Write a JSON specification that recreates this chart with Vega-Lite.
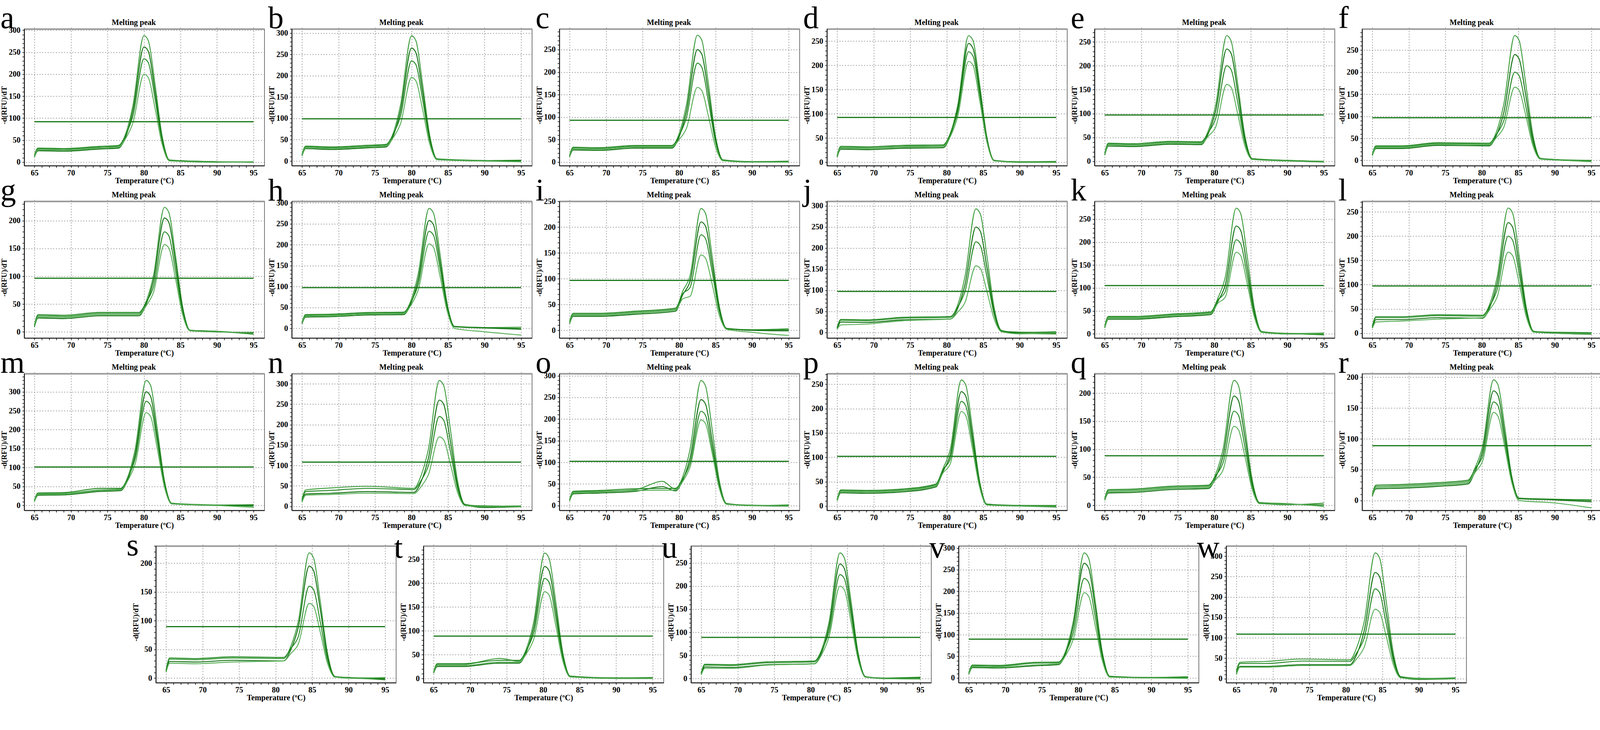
{
"$schema":"https://vega.github.io/schema/vega-lite/v6.json",
"padding":{"left":0,"top":6,"right":0,"bottom":0},
"background":"white",
"datasets":{
"thr":[{"p":"a","x1":65,"x2":95,"h":92},{"p":"b","x1":65,"x2":95,"h":99},{"p":"c","x1":65,"x2":95,"h":93},{"p":"d","x1":65,"x2":95,"h":92.5},{"p":"e","x1":65,"x2":95,"h":97},{"p":"f","x1":65,"x2":95,"h":96.7},{"p":"g","x1":65,"x2":95,"h":96.6},{"p":"h","x1":65,"x2":95,"h":97.5},{"p":"i","x1":65,"x2":95,"h":96.6},{"p":"j","x1":65,"x2":95,"h":97.4},{"p":"k","x1":65,"x2":95,"h":105.4},{"p":"l","x1":65,"x2":95,"h":97.3},{"p":"m","x1":65,"x2":95,"h":101.5},{"p":"n","x1":65,"x2":95,"h":108.3},{"p":"o","x1":65,"x2":95,"h":102.4},{"p":"p","x1":65,"x2":95,"h":102},{"p":"q","x1":65,"x2":95,"h":88.4},{"p":"r","x1":65,"x2":95,"h":89},{"p":"s","x1":65,"x2":95,"h":89.5},{"p":"t","x1":65,"x2":95,"h":88.8},{"p":"u","x1":65,"x2":95,"h":89},{"p":"v","x1":65,"x2":95,"h":89.6},{"p":"w","x1":65,"x2":95,"h":109}],
"a":[
{"c":1,"t":65,"v":15},{"c":1,"t":65.5,"v":30},{"c":1,"t":69,"v":29},{"c":1,"t":74,"v":34},{"c":1,"t":76.5,"v":36},{"c":1,"t":77.5,"v":65},{"c":1,"t":78.5,"v":130},{"c":1,"t":80,"v":288},{"c":1,"t":80.6,"v":276},{"c":1,"t":81.5,"v":179},{"c":1,"t":82.5,"v":58},{"c":1,"t":83.5,"v":5},{"c":1,"t":90,"v":1},{"c":1,"t":95,"v":0},
{"c":2,"t":65,"v":12},{"c":2,"t":65.5,"v":26},{"c":2,"t":69,"v":25},{"c":2,"t":74,"v":30},{"c":2,"t":76.5,"v":32},{"c":2,"t":77.5,"v":58},{"c":2,"t":78.5,"v":118},{"c":2,"t":80,"v":262},{"c":2,"t":80.6,"v":252},{"c":2,"t":81.5,"v":162},{"c":2,"t":82.5,"v":52},{"c":2,"t":83.5,"v":4},{"c":2,"t":90,"v":0},{"c":2,"t":95,"v":1},
{"c":3,"t":65,"v":16},{"c":3,"t":65.5,"v":32},{"c":3,"t":69,"v":31},{"c":3,"t":74,"v":36},{"c":3,"t":76.5,"v":38},{"c":3,"t":77.5,"v":62},{"c":3,"t":78.5,"v":106},{"c":3,"t":80,"v":235},{"c":3,"t":80.6,"v":226},{"c":3,"t":81.5,"v":146},{"c":3,"t":82.5,"v":47},{"c":3,"t":83.5,"v":4},{"c":3,"t":90,"v":1},{"c":3,"t":95,"v":0},
{"c":4,"t":65,"v":13},{"c":4,"t":65.5,"v":28},{"c":4,"t":69,"v":27},{"c":4,"t":74,"v":32},{"c":4,"t":76.5,"v":34},{"c":4,"t":77.5,"v":54},{"c":4,"t":78.5,"v":90},{"c":4,"t":80,"v":200},{"c":4,"t":80.6,"v":192},{"c":4,"t":81.5,"v":124},{"c":4,"t":82.5,"v":40},{"c":4,"t":83.5,"v":3},{"c":4,"t":90,"v":0},{"c":4,"t":95,"v":1}],
"b":[
{"c":1,"t":65,"v":14},{"c":1,"t":65.5,"v":33},{"c":1,"t":69,"v":31},{"c":1,"t":74,"v":35},{"c":1,"t":76.5,"v":37},{"c":1,"t":77.5,"v":66},{"c":1,"t":78.5,"v":132},{"c":1,"t":80,"v":294},{"c":1,"t":80.6,"v":282},{"c":1,"t":81.5,"v":182},{"c":1,"t":82.5,"v":59},{"c":1,"t":83.5,"v":5},{"c":1,"t":90,"v":1},{"c":1,"t":95,"v":-1},
{"c":2,"t":65,"v":12},{"c":2,"t":65.5,"v":29},{"c":2,"t":69,"v":27},{"c":2,"t":74,"v":31},{"c":2,"t":76.5,"v":33},{"c":2,"t":77.5,"v":59},{"c":2,"t":78.5,"v":119},{"c":2,"t":80,"v":265},{"c":2,"t":80.6,"v":254},{"c":2,"t":81.5,"v":164},{"c":2,"t":82.5,"v":53},{"c":2,"t":83.5,"v":4},{"c":2,"t":90,"v":0},{"c":2,"t":95,"v":1},
{"c":3,"t":65,"v":15},{"c":3,"t":65.5,"v":35},{"c":3,"t":69,"v":33},{"c":3,"t":74,"v":37},{"c":3,"t":76.5,"v":39},{"c":3,"t":77.5,"v":63},{"c":3,"t":78.5,"v":106},{"c":3,"t":80,"v":235},{"c":3,"t":80.6,"v":226},{"c":3,"t":81.5,"v":146},{"c":3,"t":82.5,"v":47},{"c":3,"t":83.5,"v":4},{"c":3,"t":90,"v":1},{"c":3,"t":95,"v":2},
{"c":4,"t":65,"v":13},{"c":4,"t":65.5,"v":31},{"c":4,"t":69,"v":29},{"c":4,"t":74,"v":33},{"c":4,"t":76.5,"v":35},{"c":4,"t":77.5,"v":55},{"c":4,"t":78.5,"v":88},{"c":4,"t":80,"v":196},{"c":4,"t":80.6,"v":188},{"c":4,"t":81.5,"v":122},{"c":4,"t":82.5,"v":39},{"c":4,"t":83.5,"v":3},{"c":4,"t":90,"v":0},{"c":4,"t":95,"v":-2}],
"c":[
{"c":1,"t":65,"v":14},{"c":1,"t":65.5,"v":31},{"c":1,"t":69,"v":30},{"c":1,"t":74,"v":35},{"c":1,"t":79,"v":35},{"c":1,"t":80,"v":63},{"c":1,"t":81,"v":127},{"c":1,"t":82.5,"v":282},{"c":1,"t":83.1,"v":271},{"c":1,"t":84,"v":175},{"c":1,"t":85,"v":56},{"c":1,"t":86,"v":5},{"c":1,"t":90,"v":1},{"c":1,"t":95,"v":1},
{"c":2,"t":65,"v":12},{"c":2,"t":65.5,"v":27},{"c":2,"t":69,"v":26},{"c":2,"t":74,"v":31},{"c":2,"t":79,"v":31},{"c":2,"t":80,"v":56},{"c":2,"t":81,"v":113},{"c":2,"t":82.5,"v":250},{"c":2,"t":83.1,"v":240},{"c":2,"t":84,"v":155},{"c":2,"t":85,"v":50},{"c":2,"t":86,"v":4},{"c":2,"t":90,"v":0},{"c":2,"t":95,"v":0},
{"c":3,"t":65,"v":15},{"c":3,"t":65.5,"v":33},{"c":3,"t":69,"v":32},{"c":3,"t":74,"v":37},{"c":3,"t":79,"v":37},{"c":3,"t":80,"v":59},{"c":3,"t":81,"v":99},{"c":3,"t":82.5,"v":220},{"c":3,"t":83.1,"v":211},{"c":3,"t":84,"v":136},{"c":3,"t":85,"v":44},{"c":3,"t":86,"v":4},{"c":3,"t":90,"v":1},{"c":3,"t":95,"v":2},
{"c":4,"t":65,"v":13},{"c":4,"t":65.5,"v":29},{"c":4,"t":69,"v":28},{"c":4,"t":74,"v":33},{"c":4,"t":79,"v":33},{"c":4,"t":80,"v":50},{"c":4,"t":81,"v":75},{"c":4,"t":82.5,"v":166},{"c":4,"t":83.1,"v":159},{"c":4,"t":84,"v":103},{"c":4,"t":85,"v":33},{"c":4,"t":86,"v":3},{"c":4,"t":90,"v":0},{"c":4,"t":95,"v":0}],
"d":[
{"c":1,"t":65,"v":13},{"c":1,"t":65.5,"v":31},{"c":1,"t":69,"v":30},{"c":1,"t":74,"v":33},{"c":1,"t":79.5,"v":34},{"c":1,"t":80.5,"v":60},{"c":1,"t":81.5,"v":117},{"c":1,"t":83,"v":261},{"c":1,"t":83.6,"v":251},{"c":1,"t":84.5,"v":162},{"c":1,"t":85.5,"v":52},{"c":1,"t":86.5,"v":4},{"c":1,"t":90,"v":1},{"c":1,"t":95,"v":2},
{"c":2,"t":65,"v":11},{"c":2,"t":65.5,"v":27},{"c":2,"t":69,"v":26},{"c":2,"t":74,"v":29},{"c":2,"t":79.5,"v":30},{"c":2,"t":80.5,"v":55},{"c":2,"t":81.5,"v":110},{"c":2,"t":83,"v":245},{"c":2,"t":83.6,"v":235},{"c":2,"t":84.5,"v":152},{"c":2,"t":85.5,"v":49},{"c":2,"t":86.5,"v":4},{"c":2,"t":90,"v":0},{"c":2,"t":95,"v":0},
{"c":3,"t":65,"v":14},{"c":3,"t":65.5,"v":33},{"c":3,"t":69,"v":32},{"c":3,"t":74,"v":35},{"c":3,"t":79.5,"v":36},{"c":3,"t":80.5,"v":59},{"c":3,"t":81.5,"v":103},{"c":3,"t":83,"v":228},{"c":3,"t":83.6,"v":219},{"c":3,"t":84.5,"v":141},{"c":3,"t":85.5,"v":46},{"c":3,"t":86.5,"v":3},{"c":3,"t":90,"v":1},{"c":3,"t":95,"v":1},
{"c":4,"t":65,"v":12},{"c":4,"t":65.5,"v":29},{"c":4,"t":69,"v":28},{"c":4,"t":74,"v":31},{"c":4,"t":79.5,"v":32},{"c":4,"t":80.5,"v":53},{"c":4,"t":81.5,"v":94},{"c":4,"t":83,"v":208},{"c":4,"t":83.6,"v":200},{"c":4,"t":84.5,"v":129},{"c":4,"t":85.5,"v":42},{"c":4,"t":86.5,"v":3},{"c":4,"t":90,"v":0},{"c":4,"t":95,"v":0}],
"e":[
{"c":1,"t":65,"v":16},{"c":1,"t":65.5,"v":36},{"c":1,"t":69,"v":35},{"c":1,"t":74,"v":40},{"c":1,"t":78.2,"v":39},{"c":1,"t":79.2,"v":65},{"c":1,"t":80.2,"v":118},{"c":1,"t":81.7,"v":263},{"c":1,"t":82.3,"v":252},{"c":1,"t":83.2,"v":163},{"c":1,"t":84.2,"v":53},{"c":1,"t":85.2,"v":6},{"c":1,"t":90,"v":2},{"c":1,"t":95,"v":0},
{"c":2,"t":65,"v":13},{"c":2,"t":65.5,"v":32},{"c":2,"t":69,"v":31},{"c":2,"t":74,"v":36},{"c":2,"t":78.2,"v":35},{"c":2,"t":79.2,"v":59},{"c":2,"t":80.2,"v":106},{"c":2,"t":81.7,"v":235},{"c":2,"t":82.3,"v":226},{"c":2,"t":83.2,"v":146},{"c":2,"t":84.2,"v":47},{"c":2,"t":85.2,"v":5},{"c":2,"t":90,"v":1},{"c":2,"t":95,"v":-1},
{"c":3,"t":65,"v":17},{"c":3,"t":65.5,"v":38},{"c":3,"t":69,"v":37},{"c":3,"t":74,"v":42},{"c":3,"t":78.2,"v":41},{"c":3,"t":79.2,"v":61},{"c":3,"t":80.2,"v":90},{"c":3,"t":81.7,"v":200},{"c":3,"t":82.3,"v":192},{"c":3,"t":83.2,"v":124},{"c":3,"t":84.2,"v":40},{"c":3,"t":85.2,"v":5},{"c":3,"t":90,"v":2},{"c":3,"t":95,"v":0},
{"c":4,"t":65,"v":14},{"c":4,"t":65.5,"v":34},{"c":4,"t":69,"v":33},{"c":4,"t":74,"v":38},{"c":4,"t":78.2,"v":37},{"c":4,"t":79.2,"v":53},{"c":4,"t":80.2,"v":72},{"c":4,"t":81.7,"v":161},{"c":4,"t":82.3,"v":155},{"c":4,"t":83.2,"v":100},{"c":4,"t":84.2,"v":32},{"c":4,"t":85.2,"v":4},{"c":4,"t":90,"v":1},{"c":4,"t":95,"v":0}],
"f":[
{"c":1,"t":65,"v":13},{"c":1,"t":65.5,"v":31},{"c":1,"t":69,"v":31},{"c":1,"t":74,"v":38},{"c":1,"t":81,"v":37},{"c":1,"t":82,"v":65},{"c":1,"t":83,"v":127},{"c":1,"t":84.5,"v":283},{"c":1,"t":85.1,"v":272},{"c":1,"t":86,"v":175},{"c":1,"t":87,"v":57},{"c":1,"t":88,"v":5},{"c":1,"t":90,"v":2},{"c":1,"t":95,"v":-3},
{"c":2,"t":65,"v":11},{"c":2,"t":65.5,"v":27},{"c":2,"t":69,"v":27},{"c":2,"t":74,"v":34},{"c":2,"t":81,"v":33},{"c":2,"t":82,"v":57},{"c":2,"t":83,"v":108},{"c":2,"t":84.5,"v":240},{"c":2,"t":85.1,"v":230},{"c":2,"t":86,"v":149},{"c":2,"t":87,"v":48},{"c":2,"t":88,"v":4},{"c":2,"t":90,"v":1},{"c":2,"t":95,"v":-1},
{"c":3,"t":65,"v":14},{"c":3,"t":65.5,"v":33},{"c":3,"t":69,"v":33},{"c":3,"t":74,"v":40},{"c":3,"t":81,"v":39},{"c":3,"t":82,"v":59},{"c":3,"t":83,"v":90},{"c":3,"t":84.5,"v":200},{"c":3,"t":85.1,"v":192},{"c":3,"t":86,"v":124},{"c":3,"t":87,"v":40},{"c":3,"t":88,"v":4},{"c":3,"t":90,"v":2},{"c":3,"t":95,"v":0},
{"c":4,"t":65,"v":12},{"c":4,"t":65.5,"v":29},{"c":4,"t":69,"v":29},{"c":4,"t":74,"v":36},{"c":4,"t":81,"v":35},{"c":4,"t":82,"v":52},{"c":4,"t":83,"v":75},{"c":4,"t":84.5,"v":166},{"c":4,"t":85.1,"v":159},{"c":4,"t":86,"v":103},{"c":4,"t":87,"v":33},{"c":4,"t":88,"v":3},{"c":4,"t":90,"v":1},{"c":4,"t":95,"v":-2}],
"g":[
{"c":1,"t":65,"v":11},{"c":1,"t":65.5,"v":29},{"c":1,"t":69,"v":28},{"c":1,"t":74,"v":33},{"c":1,"t":79.3,"v":33},{"c":1,"t":80.3,"v":55},{"c":1,"t":81.3,"v":101},{"c":1,"t":82.8,"v":224},{"c":1,"t":83.4,"v":215},{"c":1,"t":84.3,"v":139},{"c":1,"t":85.3,"v":45},{"c":1,"t":86.3,"v":3},{"c":1,"t":90,"v":1},{"c":1,"t":95,"v":-3},
{"c":2,"t":65,"v":9},{"c":2,"t":65.5,"v":25},{"c":2,"t":69,"v":24},{"c":2,"t":74,"v":29},{"c":2,"t":79.3,"v":29},{"c":2,"t":80.3,"v":50},{"c":2,"t":81.3,"v":92},{"c":2,"t":82.8,"v":205},{"c":2,"t":83.4,"v":197},{"c":2,"t":84.3,"v":127},{"c":2,"t":85.3,"v":41},{"c":2,"t":86.3,"v":3},{"c":2,"t":90,"v":0},{"c":2,"t":95,"v":-1},
{"c":3,"t":65,"v":12},{"c":3,"t":65.5,"v":31},{"c":3,"t":69,"v":30},{"c":3,"t":74,"v":35},{"c":3,"t":79.3,"v":35},{"c":3,"t":80.3,"v":53},{"c":3,"t":81.3,"v":81},{"c":3,"t":82.8,"v":180},{"c":3,"t":83.4,"v":173},{"c":3,"t":84.3,"v":112},{"c":3,"t":85.3,"v":36},{"c":3,"t":86.3,"v":3},{"c":3,"t":90,"v":1},{"c":3,"t":95,"v":-4},
{"c":4,"t":65,"v":10},{"c":4,"t":65.5,"v":27},{"c":4,"t":69,"v":26},{"c":4,"t":74,"v":31},{"c":4,"t":79.3,"v":31},{"c":4,"t":80.3,"v":47},{"c":4,"t":81.3,"v":71},{"c":4,"t":82.8,"v":157},{"c":4,"t":83.4,"v":151},{"c":4,"t":84.3,"v":97},{"c":4,"t":85.3,"v":31},{"c":4,"t":86.3,"v":2},{"c":4,"t":90,"v":0},{"c":4,"t":95,"v":-2}],
"h":[
{"c":1,"t":65,"v":13},{"c":1,"t":65.5,"v":31},{"c":1,"t":69,"v":32},{"c":1,"t":74,"v":36},{"c":1,"t":78.9,"v":37},{"c":1,"t":79.9,"v":66},{"c":1,"t":80.9,"v":129},{"c":1,"t":82.4,"v":287},{"c":1,"t":83,"v":276},{"c":1,"t":83.9,"v":178},{"c":1,"t":84.9,"v":57},{"c":1,"t":85.9,"v":5},{"c":1,"t":90,"v":2},{"c":1,"t":95,"v":3},
{"c":2,"t":65,"v":11},{"c":2,"t":65.5,"v":27},{"c":2,"t":69,"v":28},{"c":2,"t":74,"v":32},{"c":2,"t":78.9,"v":33},{"c":2,"t":79.9,"v":59},{"c":2,"t":80.9,"v":116},{"c":2,"t":82.4,"v":258},{"c":2,"t":83,"v":248},{"c":2,"t":83.9,"v":160},{"c":2,"t":84.9,"v":52},{"c":2,"t":85.9,"v":4},{"c":2,"t":90,"v":1},{"c":2,"t":95,"v":-2},
{"c":3,"t":65,"v":14},{"c":3,"t":65.5,"v":33},{"c":3,"t":69,"v":34},{"c":3,"t":74,"v":38},{"c":3,"t":78.9,"v":39},{"c":3,"t":79.9,"v":62},{"c":3,"t":80.9,"v":104},{"c":3,"t":82.4,"v":232},{"c":3,"t":83,"v":223},{"c":3,"t":83.9,"v":144},{"c":3,"t":84.9,"v":46},{"c":3,"t":85.9,"v":4},{"c":3,"t":90,"v":2},{"c":3,"t":95,"v":0},
{"c":4,"t":65,"v":12},{"c":4,"t":65.5,"v":29},{"c":4,"t":69,"v":30},{"c":4,"t":74,"v":34},{"c":4,"t":78.9,"v":35},{"c":4,"t":79.9,"v":55},{"c":4,"t":80.9,"v":91},{"c":4,"t":82.4,"v":202},{"c":4,"t":83,"v":194},{"c":4,"t":83.9,"v":125},{"c":4,"t":84.9,"v":40},{"c":4,"t":85.9,"v":0},{"c":4,"t":90,"v":-8},{"c":4,"t":95,"v":-16}],
"i":[
{"c":1,"t":65,"v":16},{"c":1,"t":65.5,"v":31},{"c":1,"t":69,"v":31},{"c":1,"t":74,"v":35},{"c":1,"t":79.5,"v":41},{"c":1,"t":80.5,"v":76},{"c":1,"t":81.5,"v":106},{"c":1,"t":83,"v":236},{"c":1,"t":83.6,"v":227},{"c":1,"t":84.5,"v":146},{"c":1,"t":85.5,"v":47},{"c":1,"t":86.5,"v":4},{"c":1,"t":90,"v":1},{"c":1,"t":95,"v":3},
{"c":2,"t":65,"v":13},{"c":2,"t":65.5,"v":27},{"c":2,"t":69,"v":27},{"c":2,"t":74,"v":31},{"c":2,"t":79.5,"v":37},{"c":2,"t":80.5,"v":69},{"c":2,"t":81.5,"v":95},{"c":2,"t":83,"v":210},{"c":2,"t":83.6,"v":202},{"c":2,"t":84.5,"v":130},{"c":2,"t":85.5,"v":42},{"c":2,"t":86.5,"v":3},{"c":2,"t":90,"v":0},{"c":2,"t":95,"v":-1},
{"c":3,"t":65,"v":17},{"c":3,"t":65.5,"v":33},{"c":3,"t":69,"v":33},{"c":3,"t":74,"v":37},{"c":3,"t":79.5,"v":43},{"c":3,"t":80.5,"v":71},{"c":3,"t":81.5,"v":83},{"c":3,"t":83,"v":185},{"c":3,"t":83.6,"v":178},{"c":3,"t":84.5,"v":115},{"c":3,"t":85.5,"v":37},{"c":3,"t":86.5,"v":3},{"c":3,"t":90,"v":1},{"c":3,"t":95,"v":1},
{"c":4,"t":65,"v":14},{"c":4,"t":65.5,"v":29},{"c":4,"t":69,"v":29},{"c":4,"t":74,"v":33},{"c":4,"t":79.5,"v":39},{"c":4,"t":80.5,"v":61},{"c":4,"t":81.5,"v":66},{"c":4,"t":83,"v":146},{"c":4,"t":83.6,"v":140},{"c":4,"t":84.5,"v":91},{"c":4,"t":85.5,"v":29},{"c":4,"t":86.5,"v":2},{"c":4,"t":90,"v":-4},{"c":4,"t":95,"v":-10}],
"j":[
{"c":1,"t":65,"v":11},{"c":1,"t":65.5,"v":29},{"c":1,"t":69,"v":28},{"c":1,"t":74,"v":34},{"c":1,"t":80.5,"v":36},{"c":1,"t":81.5,"v":65},{"c":1,"t":82.5,"v":132},{"c":1,"t":84,"v":293},{"c":1,"t":84.6,"v":281},{"c":1,"t":85.5,"v":182},{"c":1,"t":86.5,"v":59},{"c":1,"t":87.5,"v":5},{"c":1,"t":90,"v":0},{"c":1,"t":95,"v":2},
{"c":2,"t":65,"v":9},{"c":2,"t":65.5,"v":25},{"c":2,"t":69,"v":24},{"c":2,"t":74,"v":30},{"c":2,"t":80.5,"v":32},{"c":2,"t":81.5,"v":57},{"c":2,"t":82.5,"v":113},{"c":2,"t":84,"v":250},{"c":2,"t":84.6,"v":240},{"c":2,"t":85.5,"v":155},{"c":2,"t":86.5,"v":50},{"c":2,"t":87.5,"v":4},{"c":2,"t":90,"v":-2},{"c":2,"t":95,"v":-3},
{"c":3,"t":65,"v":12},{"c":3,"t":65.5,"v":31},{"c":3,"t":69,"v":30},{"c":3,"t":74,"v":36},{"c":3,"t":80.5,"v":38},{"c":3,"t":81.5,"v":60},{"c":3,"t":82.5,"v":97},{"c":3,"t":84,"v":215},{"c":3,"t":84.6,"v":206},{"c":3,"t":85.5,"v":133},{"c":3,"t":86.5,"v":43},{"c":3,"t":87.5,"v":3},{"c":3,"t":90,"v":1},{"c":3,"t":95,"v":0},
{"c":4,"t":65,"v":8},{"c":4,"t":65.5,"v":18},{"c":4,"t":69,"v":20},{"c":4,"t":74,"v":28},{"c":4,"t":80.5,"v":32},{"c":4,"t":81.5,"v":48},{"c":4,"t":82.5,"v":71},{"c":4,"t":84,"v":158},{"c":4,"t":84.6,"v":152},{"c":4,"t":85.5,"v":98},{"c":4,"t":86.5,"v":32},{"c":4,"t":87.5,"v":2},{"c":4,"t":90,"v":-3},{"c":4,"t":95,"v":-1}],
"k":[
{"c":1,"t":65,"v":16},{"c":1,"t":65.5,"v":36},{"c":1,"t":69,"v":36},{"c":1,"t":74,"v":41},{"c":1,"t":79.5,"v":46},{"c":1,"t":80.5,"v":78},{"c":1,"t":81.5,"v":123},{"c":1,"t":83,"v":274},{"c":1,"t":83.6,"v":263},{"c":1,"t":84.5,"v":170},{"c":1,"t":85.5,"v":55},{"c":1,"t":86.5,"v":5},{"c":1,"t":90,"v":1},{"c":1,"t":95,"v":2},
{"c":2,"t":65,"v":13},{"c":2,"t":65.5,"v":32},{"c":2,"t":69,"v":32},{"c":2,"t":74,"v":37},{"c":2,"t":79.5,"v":42},{"c":2,"t":80.5,"v":71},{"c":2,"t":81.5,"v":106},{"c":2,"t":83,"v":235},{"c":2,"t":83.6,"v":226},{"c":2,"t":84.5,"v":146},{"c":2,"t":85.5,"v":47},{"c":2,"t":86.5,"v":4},{"c":2,"t":90,"v":0},{"c":2,"t":95,"v":0},
{"c":3,"t":65,"v":17},{"c":3,"t":65.5,"v":38},{"c":3,"t":69,"v":38},{"c":3,"t":74,"v":43},{"c":3,"t":79.5,"v":48},{"c":3,"t":80.5,"v":74},{"c":3,"t":81.5,"v":92},{"c":3,"t":83,"v":205},{"c":3,"t":83.6,"v":197},{"c":3,"t":84.5,"v":127},{"c":3,"t":85.5,"v":41},{"c":3,"t":86.5,"v":4},{"c":3,"t":90,"v":1},{"c":3,"t":95,"v":-2},
{"c":4,"t":65,"v":14},{"c":4,"t":65.5,"v":34},{"c":4,"t":69,"v":34},{"c":4,"t":74,"v":39},{"c":4,"t":79.5,"v":44},{"c":4,"t":80.5,"v":67},{"c":4,"t":81.5,"v":80},{"c":4,"t":83,"v":178},{"c":4,"t":83.6,"v":171},{"c":4,"t":84.5,"v":110},{"c":4,"t":85.5,"v":36},{"c":4,"t":86.5,"v":3},{"c":4,"t":90,"v":0},{"c":4,"t":95,"v":1}],
"l":[
{"c":1,"t":65,"v":13},{"c":1,"t":65.5,"v":32},{"c":1,"t":69,"v":32},{"c":1,"t":74,"v":36},{"c":1,"t":80.1,"v":35},{"c":1,"t":81.1,"v":61},{"c":1,"t":82.1,"v":116},{"c":1,"t":83.6,"v":258},{"c":1,"t":84.2,"v":248},{"c":1,"t":85.1,"v":160},{"c":1,"t":86.1,"v":52},{"c":1,"t":87.1,"v":4},{"c":1,"t":90,"v":1},{"c":1,"t":95,"v":0},
{"c":2,"t":65,"v":11},{"c":2,"t":65.5,"v":28},{"c":2,"t":69,"v":28},{"c":2,"t":74,"v":32},{"c":2,"t":80.1,"v":31},{"c":2,"t":81.1,"v":54},{"c":2,"t":82.1,"v":103},{"c":2,"t":83.6,"v":228},{"c":2,"t":84.2,"v":219},{"c":2,"t":85.1,"v":141},{"c":2,"t":86.1,"v":46},{"c":2,"t":87.1,"v":3},{"c":2,"t":90,"v":0},{"c":2,"t":95,"v":-2},
{"c":3,"t":65,"v":14},{"c":3,"t":65.5,"v":34},{"c":3,"t":69,"v":34},{"c":3,"t":74,"v":38},{"c":3,"t":80.1,"v":37},{"c":3,"t":81.1,"v":57},{"c":3,"t":82.1,"v":90},{"c":3,"t":83.6,"v":200},{"c":3,"t":84.2,"v":192},{"c":3,"t":85.1,"v":124},{"c":3,"t":86.1,"v":40},{"c":3,"t":87.1,"v":3},{"c":3,"t":90,"v":2},{"c":3,"t":95,"v":1},
{"c":4,"t":65,"v":10},{"c":4,"t":65.5,"v":23},{"c":4,"t":69,"v":25},{"c":4,"t":74,"v":29},{"c":4,"t":80.1,"v":32},{"c":4,"t":81.1,"v":49},{"c":4,"t":82.1,"v":75},{"c":4,"t":83.6,"v":167},{"c":4,"t":84.2,"v":160},{"c":4,"t":85.1,"v":104},{"c":4,"t":86.1,"v":33},{"c":4,"t":87.1,"v":2},{"c":4,"t":90,"v":0},{"c":4,"t":95,"v":-1}],
"m":[
{"c":1,"t":65,"v":13},{"c":1,"t":65.5,"v":31},{"c":1,"t":69,"v":32},{"c":1,"t":74,"v":41},{"c":1,"t":76.8,"v":43},{"c":1,"t":77.8,"v":76},{"c":1,"t":78.8,"v":149},{"c":1,"t":80.3,"v":330},{"c":1,"t":80.9,"v":317},{"c":1,"t":81.8,"v":205},{"c":1,"t":82.8,"v":66},{"c":1,"t":83.8,"v":6},{"c":1,"t":90,"v":1},{"c":1,"t":95,"v":-2},
{"c":2,"t":65,"v":11},{"c":2,"t":65.5,"v":27},{"c":2,"t":69,"v":28},{"c":2,"t":74,"v":37},{"c":2,"t":76.8,"v":39},{"c":2,"t":77.8,"v":69},{"c":2,"t":78.8,"v":135},{"c":2,"t":80.3,"v":300},{"c":2,"t":80.9,"v":288},{"c":2,"t":81.8,"v":186},{"c":2,"t":82.8,"v":60},{"c":2,"t":83.8,"v":5},{"c":2,"t":90,"v":0},{"c":2,"t":95,"v":0},
{"c":3,"t":65,"v":14},{"c":3,"t":65.5,"v":33},{"c":3,"t":69,"v":34},{"c":3,"t":74,"v":45},{"c":3,"t":76.8,"v":45},{"c":3,"t":77.8,"v":73},{"c":3,"t":78.8,"v":124},{"c":3,"t":80.3,"v":275},{"c":3,"t":80.9,"v":264},{"c":3,"t":81.8,"v":171},{"c":3,"t":82.8,"v":55},{"c":3,"t":83.8,"v":5},{"c":3,"t":90,"v":1},{"c":3,"t":95,"v":2},
{"c":4,"t":65,"v":12},{"c":4,"t":65.5,"v":29},{"c":4,"t":69,"v":30},{"c":4,"t":74,"v":39},{"c":4,"t":76.8,"v":41},{"c":4,"t":77.8,"v":66},{"c":4,"t":78.8,"v":110},{"c":4,"t":80.3,"v":245},{"c":4,"t":80.9,"v":235},{"c":4,"t":81.8,"v":152},{"c":4,"t":82.8,"v":49},{"c":4,"t":83.8,"v":4},{"c":4,"t":90,"v":0},{"c":4,"t":95,"v":-5}],
"n":[
{"c":1,"t":65,"v":18},{"c":1,"t":65.5,"v":40},{"c":1,"t":69,"v":45},{"c":1,"t":74,"v":49},{"c":1,"t":80.3,"v":44},{"c":1,"t":81.3,"v":75},{"c":1,"t":82.3,"v":139},{"c":1,"t":83.8,"v":308},{"c":1,"t":84.4,"v":296},{"c":1,"t":85.3,"v":191},{"c":1,"t":86.3,"v":62},{"c":1,"t":87.3,"v":5},{"c":1,"t":90,"v":0},{"c":1,"t":95,"v":1},
{"c":2,"t":65,"v":12},{"c":2,"t":65.5,"v":30},{"c":2,"t":69,"v":32},{"c":2,"t":74,"v":36},{"c":2,"t":80.3,"v":34},{"c":2,"t":81.3,"v":60},{"c":2,"t":82.3,"v":117},{"c":2,"t":83.8,"v":260},{"c":2,"t":84.4,"v":250},{"c":2,"t":85.3,"v":161},{"c":2,"t":86.3,"v":52},{"c":2,"t":87.3,"v":4},{"c":2,"t":90,"v":-3},{"c":2,"t":95,"v":-1},
{"c":3,"t":65,"v":15},{"c":3,"t":65.5,"v":36},{"c":3,"t":69,"v":39},{"c":3,"t":74,"v":44},{"c":3,"t":80.3,"v":41},{"c":3,"t":81.3,"v":63},{"c":3,"t":82.3,"v":99},{"c":3,"t":83.8,"v":220},{"c":3,"t":84.4,"v":211},{"c":3,"t":85.3,"v":136},{"c":3,"t":86.3,"v":44},{"c":3,"t":87.3,"v":3},{"c":3,"t":90,"v":1},{"c":3,"t":95,"v":0},
{"c":4,"t":65,"v":10},{"c":4,"t":65.5,"v":27},{"c":4,"t":69,"v":29},{"c":4,"t":74,"v":32},{"c":4,"t":80.3,"v":31},{"c":4,"t":81.3,"v":48},{"c":4,"t":82.3,"v":77},{"c":4,"t":83.8,"v":170},{"c":4,"t":84.4,"v":163},{"c":4,"t":85.3,"v":105},{"c":4,"t":86.3,"v":34},{"c":4,"t":87.3,"v":2},{"c":4,"t":90,"v":-1},{"c":4,"t":95,"v":0}],
"o":[
{"c":1,"t":65,"v":13},{"c":1,"t":65.5,"v":31},{"c":1,"t":69,"v":33},{"c":1,"t":74,"v":37},{"c":1,"t":77.7,"v":56},{"c":1,"t":79.5,"v":38},{"c":1,"t":80.5,"v":67},{"c":1,"t":81.5,"v":130},{"c":1,"t":83,"v":289},{"c":1,"t":83.6,"v":277},{"c":1,"t":84.5,"v":179},{"c":1,"t":85.5,"v":58},{"c":1,"t":86.5,"v":5},{"c":1,"t":90,"v":0},{"c":1,"t":95,"v":2},
{"c":2,"t":65,"v":11},{"c":2,"t":65.5,"v":27},{"c":2,"t":69,"v":29},{"c":2,"t":74,"v":33},{"c":2,"t":77.7,"v":44},{"c":2,"t":79.5,"v":34},{"c":2,"t":80.5,"v":59},{"c":2,"t":81.5,"v":110},{"c":2,"t":83,"v":245},{"c":2,"t":83.6,"v":235},{"c":2,"t":84.5,"v":152},{"c":2,"t":85.5,"v":49},{"c":2,"t":86.5,"v":4},{"c":2,"t":90,"v":0},{"c":2,"t":95,"v":-1},
{"c":3,"t":65,"v":14},{"c":3,"t":65.5,"v":33},{"c":3,"t":69,"v":35},{"c":3,"t":74,"v":39},{"c":3,"t":79.5,"v":40},{"c":3,"t":80.5,"v":62},{"c":3,"t":81.5,"v":98},{"c":3,"t":83,"v":218},{"c":3,"t":83.6,"v":209},{"c":3,"t":84.5,"v":135},{"c":3,"t":85.5,"v":44},{"c":3,"t":86.5,"v":4},{"c":3,"t":90,"v":1},{"c":3,"t":95,"v":0},
{"c":4,"t":65,"v":12},{"c":4,"t":65.5,"v":29},{"c":4,"t":69,"v":31},{"c":4,"t":74,"v":35},{"c":4,"t":79.5,"v":36},{"c":4,"t":80.5,"v":56},{"c":4,"t":81.5,"v":89},{"c":4,"t":83,"v":198},{"c":4,"t":83.6,"v":190},{"c":4,"t":84.5,"v":123},{"c":4,"t":85.5,"v":40},{"c":4,"t":86.5,"v":3},{"c":4,"t":90,"v":0},{"c":4,"t":95,"v":1}],
"p":[
{"c":1,"t":65,"v":13},{"c":1,"t":65.5,"v":31},{"c":1,"t":69,"v":30},{"c":1,"t":74,"v":33},{"c":1,"t":78.5,"v":43},{"c":1,"t":79.5,"v":77},{"c":1,"t":80.5,"v":117},{"c":1,"t":82,"v":259},{"c":1,"t":82.6,"v":249},{"c":1,"t":83.5,"v":161},{"c":1,"t":84.5,"v":52},{"c":1,"t":85.5,"v":4},{"c":1,"t":90,"v":1},{"c":1,"t":95,"v":0},
{"c":2,"t":65,"v":11},{"c":2,"t":65.5,"v":27},{"c":2,"t":69,"v":26},{"c":2,"t":74,"v":29},{"c":2,"t":78.5,"v":39},{"c":2,"t":79.5,"v":71},{"c":2,"t":80.5,"v":106},{"c":2,"t":82,"v":235},{"c":2,"t":82.6,"v":226},{"c":2,"t":83.5,"v":146},{"c":2,"t":84.5,"v":47},{"c":2,"t":85.5,"v":3},{"c":2,"t":90,"v":0},{"c":2,"t":95,"v":-2},
{"c":3,"t":65,"v":14},{"c":3,"t":65.5,"v":33},{"c":3,"t":69,"v":32},{"c":3,"t":74,"v":35},{"c":3,"t":78.5,"v":45},{"c":3,"t":79.5,"v":75},{"c":3,"t":80.5,"v":97},{"c":3,"t":82,"v":215},{"c":3,"t":82.6,"v":206},{"c":3,"t":83.5,"v":133},{"c":3,"t":84.5,"v":43},{"c":3,"t":85.5,"v":3},{"c":3,"t":90,"v":1},{"c":3,"t":95,"v":1},
{"c":4,"t":65,"v":12},{"c":4,"t":65.5,"v":29},{"c":4,"t":69,"v":28},{"c":4,"t":74,"v":31},{"c":4,"t":78.5,"v":41},{"c":4,"t":79.5,"v":68},{"c":4,"t":80.5,"v":87},{"c":4,"t":82,"v":194},{"c":4,"t":82.6,"v":186},{"c":4,"t":83.5,"v":120},{"c":4,"t":84.5,"v":39},{"c":4,"t":85.5,"v":2},{"c":4,"t":90,"v":0},{"c":4,"t":95,"v":-1}],
"q":[
{"c":1,"t":65,"v":11},{"c":1,"t":65.5,"v":26},{"c":1,"t":69,"v":27},{"c":1,"t":74,"v":32},{"c":1,"t":79.2,"v":34},{"c":1,"t":80.2,"v":56},{"c":1,"t":81.2,"v":100},{"c":1,"t":82.7,"v":223},{"c":1,"t":83.3,"v":214},{"c":1,"t":84.2,"v":138},{"c":1,"t":85.2,"v":45},{"c":1,"t":86.2,"v":5},{"c":1,"t":90,"v":3},{"c":1,"t":95,"v":-2},
{"c":2,"t":65,"v":9},{"c":2,"t":65.5,"v":22},{"c":2,"t":69,"v":23},{"c":2,"t":74,"v":28},{"c":2,"t":79.2,"v":30},{"c":2,"t":80.2,"v":50},{"c":2,"t":81.2,"v":88},{"c":2,"t":82.7,"v":195},{"c":2,"t":83.3,"v":187},{"c":2,"t":84.2,"v":121},{"c":2,"t":85.2,"v":39},{"c":2,"t":86.2,"v":4},{"c":2,"t":90,"v":2},{"c":2,"t":95,"v":1},
{"c":3,"t":65,"v":12},{"c":3,"t":65.5,"v":28},{"c":3,"t":69,"v":29},{"c":3,"t":74,"v":34},{"c":3,"t":79.2,"v":36},{"c":3,"t":80.2,"v":53},{"c":3,"t":81.2,"v":76},{"c":3,"t":82.7,"v":168},{"c":3,"t":83.3,"v":161},{"c":3,"t":84.2,"v":104},{"c":3,"t":85.2,"v":34},{"c":3,"t":86.2,"v":4},{"c":3,"t":90,"v":1},{"c":3,"t":95,"v":4},
{"c":4,"t":65,"v":10},{"c":4,"t":65.5,"v":24},{"c":4,"t":69,"v":25},{"c":4,"t":74,"v":30},{"c":4,"t":79.2,"v":32},{"c":4,"t":80.2,"v":46},{"c":4,"t":81.2,"v":63},{"c":4,"t":82.7,"v":141},{"c":4,"t":83.3,"v":135},{"c":4,"t":84.2,"v":87},{"c":4,"t":85.2,"v":28},{"c":4,"t":86.2,"v":3},{"c":4,"t":90,"v":2},{"c":4,"t":95,"v":0}],
"r":[
{"c":1,"t":65,"v":9},{"c":1,"t":65.5,"v":23},{"c":1,"t":69,"v":24},{"c":1,"t":74,"v":27},{"c":1,"t":78.1,"v":31},{"c":1,"t":79.1,"v":54},{"c":1,"t":80.1,"v":88},{"c":1,"t":81.6,"v":196},{"c":1,"t":82.2,"v":188},{"c":1,"t":83.1,"v":122},{"c":1,"t":84.1,"v":39},{"c":1,"t":85.1,"v":4},{"c":1,"t":90,"v":2},{"c":1,"t":95,"v":0},
{"c":2,"t":65,"v":7},{"c":2,"t":65.5,"v":19},{"c":2,"t":69,"v":20},{"c":2,"t":74,"v":23},{"c":2,"t":78.1,"v":27},{"c":2,"t":79.1,"v":48},{"c":2,"t":80.1,"v":80},{"c":2,"t":81.6,"v":178},{"c":2,"t":82.2,"v":171},{"c":2,"t":83.1,"v":110},{"c":2,"t":84.1,"v":36},{"c":2,"t":85.1,"v":3},{"c":2,"t":90,"v":1},{"c":2,"t":95,"v":-2},
{"c":3,"t":65,"v":10},{"c":3,"t":65.5,"v":25},{"c":3,"t":69,"v":26},{"c":3,"t":74,"v":29},{"c":3,"t":78.1,"v":33},{"c":3,"t":79.1,"v":52},{"c":3,"t":80.1,"v":72},{"c":3,"t":81.6,"v":160},{"c":3,"t":82.2,"v":154},{"c":3,"t":83.1,"v":99},{"c":3,"t":84.1,"v":32},{"c":3,"t":85.1,"v":3},{"c":3,"t":90,"v":2},{"c":3,"t":95,"v":1},
{"c":4,"t":65,"v":8},{"c":4,"t":65.5,"v":21},{"c":4,"t":69,"v":22},{"c":4,"t":74,"v":25},{"c":4,"t":78.1,"v":29},{"c":4,"t":79.1,"v":46},{"c":4,"t":80.1,"v":64},{"c":4,"t":81.6,"v":143},{"c":4,"t":82.2,"v":137},{"c":4,"t":83.1,"v":89},{"c":4,"t":84.1,"v":29},{"c":4,"t":85.1,"v":0},{"c":4,"t":90,"v":-4},{"c":4,"t":95,"v":-12}],
"s":[
{"c":1,"t":65,"v":13},{"c":1,"t":65.5,"v":33},{"c":1,"t":69,"v":32},{"c":1,"t":74,"v":35},{"c":1,"t":81.1,"v":34},{"c":1,"t":82.1,"v":56},{"c":1,"t":83.1,"v":98},{"c":1,"t":84.6,"v":218},{"c":1,"t":85.2,"v":209},{"c":1,"t":86.1,"v":135},{"c":1,"t":87.1,"v":44},{"c":1,"t":88.1,"v":3},{"c":1,"t":90,"v":1},{"c":1,"t":95,"v":0},
{"c":2,"t":65,"v":11},{"c":2,"t":65.5,"v":29},{"c":2,"t":69,"v":28},{"c":2,"t":74,"v":31},{"c":2,"t":81.1,"v":30},{"c":2,"t":82.1,"v":50},{"c":2,"t":83.1,"v":88},{"c":2,"t":84.6,"v":195},{"c":2,"t":85.2,"v":187},{"c":2,"t":86.1,"v":121},{"c":2,"t":87.1,"v":39},{"c":2,"t":88.1,"v":3},{"c":2,"t":90,"v":0},{"c":2,"t":95,"v":-1},
{"c":3,"t":65,"v":14},{"c":3,"t":65.5,"v":35},{"c":3,"t":69,"v":34},{"c":3,"t":74,"v":37},{"c":3,"t":81.1,"v":36},{"c":3,"t":82.1,"v":52},{"c":3,"t":83.1,"v":72},{"c":3,"t":84.6,"v":160},{"c":3,"t":85.2,"v":154},{"c":3,"t":86.1,"v":99},{"c":3,"t":87.1,"v":32},{"c":3,"t":88.1,"v":2},{"c":3,"t":90,"v":1},{"c":3,"t":95,"v":-3},
{"c":4,"t":65,"v":10},{"c":4,"t":65.5,"v":26},{"c":4,"t":69,"v":25},{"c":4,"t":74,"v":28},{"c":4,"t":81.1,"v":30},{"c":4,"t":82.1,"v":43},{"c":4,"t":83.1,"v":59},{"c":4,"t":84.6,"v":130},{"c":4,"t":85.2,"v":125},{"c":4,"t":86.1,"v":81},{"c":4,"t":87.1,"v":26},{"c":4,"t":88.1,"v":2},{"c":4,"t":90,"v":0},{"c":4,"t":95,"v":1}],
"t":[
{"c":1,"t":65,"v":13},{"c":1,"t":65.5,"v":29},{"c":1,"t":69,"v":29},{"c":1,"t":74,"v":42},{"c":1,"t":76.7,"v":36},{"c":1,"t":77.7,"v":62},{"c":1,"t":78.7,"v":118},{"c":1,"t":80.2,"v":263},{"c":1,"t":80.8,"v":252},{"c":1,"t":81.7,"v":163},{"c":1,"t":82.7,"v":53},{"c":1,"t":83.7,"v":5},{"c":1,"t":90,"v":1},{"c":1,"t":95,"v":1},
{"c":2,"t":65,"v":11},{"c":2,"t":65.5,"v":25},{"c":2,"t":69,"v":25},{"c":2,"t":74,"v":32},{"c":2,"t":76.7,"v":32},{"c":2,"t":77.7,"v":56},{"c":2,"t":78.7,"v":106},{"c":2,"t":80.2,"v":235},{"c":2,"t":80.8,"v":226},{"c":2,"t":81.7,"v":146},{"c":2,"t":82.7,"v":47},{"c":2,"t":83.7,"v":4},{"c":2,"t":90,"v":0},{"c":2,"t":95,"v":0},
{"c":3,"t":65,"v":14},{"c":3,"t":65.5,"v":31},{"c":3,"t":69,"v":31},{"c":3,"t":74,"v":38},{"c":3,"t":76.7,"v":38},{"c":3,"t":77.7,"v":59},{"c":3,"t":78.7,"v":95},{"c":3,"t":80.2,"v":210},{"c":3,"t":80.8,"v":202},{"c":3,"t":81.7,"v":130},{"c":3,"t":82.7,"v":42},{"c":3,"t":83.7,"v":4},{"c":3,"t":90,"v":1},{"c":3,"t":95,"v":2},
{"c":4,"t":65,"v":12},{"c":4,"t":65.5,"v":27},{"c":4,"t":69,"v":27},{"c":4,"t":74,"v":34},{"c":4,"t":76.7,"v":34},{"c":4,"t":77.7,"v":52},{"c":4,"t":78.7,"v":82},{"c":4,"t":80.2,"v":182},{"c":4,"t":80.8,"v":175},{"c":4,"t":81.7,"v":113},{"c":4,"t":82.7,"v":36},{"c":4,"t":83.7,"v":3},{"c":4,"t":90,"v":0},{"c":4,"t":95,"v":0}],
"u":[
{"c":1,"t":65,"v":11},{"c":1,"t":65.5,"v":29},{"c":1,"t":69,"v":28},{"c":1,"t":74,"v":34},{"c":1,"t":80.5,"v":36},{"c":1,"t":81.5,"v":63},{"c":1,"t":82.5,"v":122},{"c":1,"t":84,"v":272},{"c":1,"t":84.6,"v":261},{"c":1,"t":85.5,"v":169},{"c":1,"t":86.5,"v":54},{"c":1,"t":87.5,"v":4},{"c":1,"t":90,"v":1},{"c":1,"t":95,"v":3},
{"c":2,"t":65,"v":9},{"c":2,"t":65.5,"v":25},{"c":2,"t":69,"v":24},{"c":2,"t":74,"v":30},{"c":2,"t":80.5,"v":32},{"c":2,"t":81.5,"v":57},{"c":2,"t":82.5,"v":112},{"c":2,"t":84,"v":248},{"c":2,"t":84.6,"v":238},{"c":2,"t":85.5,"v":154},{"c":2,"t":86.5,"v":50},{"c":2,"t":87.5,"v":4},{"c":2,"t":90,"v":0},{"c":2,"t":95,"v":0},
{"c":3,"t":65,"v":12},{"c":3,"t":65.5,"v":31},{"c":3,"t":69,"v":30},{"c":3,"t":74,"v":36},{"c":3,"t":80.5,"v":38},{"c":3,"t":81.5,"v":61},{"c":3,"t":82.5,"v":101},{"c":3,"t":84,"v":225},{"c":3,"t":84.6,"v":216},{"c":3,"t":85.5,"v":140},{"c":3,"t":86.5,"v":45},{"c":3,"t":87.5,"v":3},{"c":3,"t":90,"v":1},{"c":3,"t":95,"v":2},
{"c":4,"t":65,"v":8},{"c":4,"t":65.5,"v":22},{"c":4,"t":69,"v":22},{"c":4,"t":74,"v":29},{"c":4,"t":80.5,"v":32},{"c":4,"t":81.5,"v":52},{"c":4,"t":82.5,"v":90},{"c":4,"t":84,"v":200},{"c":4,"t":84.6,"v":192},{"c":4,"t":85.5,"v":124},{"c":4,"t":86.5,"v":40},{"c":4,"t":87.5,"v":3},{"c":4,"t":90,"v":0},{"c":4,"t":95,"v":-1}],
"v":[
{"c":1,"t":65,"v":11},{"c":1,"t":65.5,"v":28},{"c":1,"t":69,"v":27},{"c":1,"t":74,"v":34},{"c":1,"t":77.3,"v":35},{"c":1,"t":78.3,"v":64},{"c":1,"t":79.3,"v":130},{"c":1,"t":80.8,"v":289},{"c":1,"t":81.4,"v":277},{"c":1,"t":82.3,"v":179},{"c":1,"t":83.3,"v":58},{"c":1,"t":84.3,"v":4},{"c":1,"t":90,"v":1},{"c":1,"t":95,"v":3},
{"c":2,"t":65,"v":9},{"c":2,"t":65.5,"v":24},{"c":2,"t":69,"v":23},{"c":2,"t":74,"v":28},{"c":2,"t":77.3,"v":31},{"c":2,"t":78.3,"v":58},{"c":2,"t":79.3,"v":119},{"c":2,"t":80.8,"v":265},{"c":2,"t":81.4,"v":254},{"c":2,"t":82.3,"v":164},{"c":2,"t":83.3,"v":53},{"c":2,"t":84.3,"v":3},{"c":2,"t":90,"v":0},{"c":2,"t":95,"v":0},
{"c":3,"t":65,"v":12},{"c":3,"t":65.5,"v":30},{"c":3,"t":69,"v":29},{"c":3,"t":74,"v":36},{"c":3,"t":77.3,"v":37},{"c":3,"t":78.3,"v":60},{"c":3,"t":79.3,"v":104},{"c":3,"t":80.8,"v":230},{"c":3,"t":81.4,"v":221},{"c":3,"t":82.3,"v":143},{"c":3,"t":83.3,"v":46},{"c":3,"t":84.3,"v":3},{"c":3,"t":90,"v":1},{"c":3,"t":95,"v":1},
{"c":4,"t":65,"v":10},{"c":4,"t":65.5,"v":26},{"c":4,"t":69,"v":25},{"c":4,"t":74,"v":30},{"c":4,"t":77.3,"v":33},{"c":4,"t":78.3,"v":53},{"c":4,"t":79.3,"v":89},{"c":4,"t":80.8,"v":197},{"c":4,"t":81.4,"v":189},{"c":4,"t":82.3,"v":122},{"c":4,"t":83.3,"v":39},{"c":4,"t":84.3,"v":2},{"c":4,"t":90,"v":0},{"c":4,"t":95,"v":-1}],
"w":[
{"c":1,"t":65,"v":19},{"c":1,"t":65.5,"v":40},{"c":1,"t":69,"v":42},{"c":1,"t":74,"v":48},{"c":1,"t":80.5,"v":46},{"c":1,"t":81.5,"v":77},{"c":1,"t":82.5,"v":139},{"c":1,"t":84,"v":308},{"c":1,"t":84.6,"v":296},{"c":1,"t":85.5,"v":191},{"c":1,"t":86.5,"v":62},{"c":1,"t":87.5,"v":5},{"c":1,"t":90,"v":1},{"c":1,"t":95,"v":0},
{"c":2,"t":65,"v":12},{"c":2,"t":65.5,"v":30},{"c":2,"t":69,"v":30},{"c":2,"t":74,"v":34},{"c":2,"t":80.5,"v":34},{"c":2,"t":81.5,"v":60},{"c":2,"t":82.5,"v":117},{"c":2,"t":84,"v":260},{"c":2,"t":84.6,"v":250},{"c":2,"t":85.5,"v":161},{"c":2,"t":86.5,"v":52},{"c":2,"t":87.5,"v":4},{"c":2,"t":90,"v":0},{"c":2,"t":95,"v":2},
{"c":3,"t":65,"v":16},{"c":3,"t":65.5,"v":37},{"c":3,"t":69,"v":37},{"c":3,"t":74,"v":43},{"c":3,"t":80.5,"v":42},{"c":3,"t":81.5,"v":64},{"c":3,"t":82.5,"v":99},{"c":3,"t":84,"v":220},{"c":3,"t":84.6,"v":211},{"c":3,"t":85.5,"v":136},{"c":3,"t":86.5,"v":44},{"c":3,"t":87.5,"v":3},{"c":3,"t":90,"v":-2},{"c":3,"t":95,"v":0},
{"c":4,"t":65,"v":10},{"c":4,"t":65.5,"v":28},{"c":4,"t":69,"v":28},{"c":4,"t":74,"v":32},{"c":4,"t":80.5,"v":32},{"c":4,"t":81.5,"v":49},{"c":4,"t":82.5,"v":77},{"c":4,"t":84,"v":170},{"c":4,"t":84.6,"v":163},{"c":4,"t":85.5,"v":105},{"c":4,"t":86.5,"v":34},{"c":4,"t":87.5,"v":2},{"c":4,"t":90,"v":0},{"c":4,"t":95,"v":1}]
},
"vconcat":[
{"bounds":"flush","spacing":70,"hconcat":[
{"width":615,"height":350,"title":"a","layer":[{"data":{"name":"a"},"mark":{"type":"line","interpolate":"monotone","strokeWidth":2.4,"opacity":0.95},"encoding":{"x":{"field":"t","type":"quantitative","scale":{"domain":[63.6,96.5]},"axis":{"orient":"bottom","values":[65,66,67,68,69,70,71,72,73,74,75,76,77,78,79,80,81,82,83,84,85,86,87,88,89,90,91,92,93,94,95],"labelExpr":"datum.value % 5 === 0 ? datum.label : ''","title":"Temperature (ºC)"}},"y":{"field":"v","type":"quantitative","scale":{"domain":[-8,303]},"axis":{"orient":"left","values":[0,10,20,30,40,50,60,70,80,90,100,110,120,130,140,150,160,170,180,190,200,210,220,230,240,250,260,270,280,290,300,310,320,330,340],"labelExpr":"datum.value % 50 === 0 ? datum.label : ''","title":"-d(RFU)/dT"}},"color":{"field":"c","type":"nominal","legend":null,"scale":{"range":["#3a9a3a","#0a6a0a","#1f861f","#55ad55"]}}}},{"data":{"name":"thr"},"transform":[{"filter":"datum.p==='a'"}],"mark":{"type":"rule","color":"#1a7a1a","strokeWidth":3},"encoding":{"x":{"field":"x1","type":"quantitative","scale":{"domain":[63.6,96.5]},"axis":{"orient":"top","grid":true,"values":[65,70,75,80,85,90,95],"title":"Melting peak"}},"x2":{"field":"x2"},"y":{"field":"h","type":"quantitative","scale":{"domain":[-8,303]},"axis":{"orient":"right","grid":true,"values":[0,50,100,150,200,250,300,350],"title":null}}}}]},
{"width":615,"height":350,"title":"b","layer":[{"data":{"name":"b"},"mark":{"type":"line","interpolate":"monotone","strokeWidth":2.4,"opacity":0.95},"encoding":{"x":{"field":"t","type":"quantitative","scale":{"domain":[63.6,96.5]},"axis":{"orient":"bottom","values":[65,66,67,68,69,70,71,72,73,74,75,76,77,78,79,80,81,82,83,84,85,86,87,88,89,90,91,92,93,94,95],"labelExpr":"datum.value % 5 === 0 ? datum.label : ''","title":"Temperature (ºC)"}},"y":{"field":"v","type":"quantitative","scale":{"domain":[-11,310]},"axis":{"orient":"left","values":[0,10,20,30,40,50,60,70,80,90,100,110,120,130,140,150,160,170,180,190,200,210,220,230,240,250,260,270,280,290,300,310,320,330,340],"labelExpr":"datum.value % 50 === 0 ? datum.label : ''","title":"-d(RFU)/dT"}},"color":{"field":"c","type":"nominal","legend":null,"scale":{"range":["#3a9a3a","#0a6a0a","#1f861f","#55ad55"]}}}},{"data":{"name":"thr"},"transform":[{"filter":"datum.p==='b'"}],"mark":{"type":"rule","color":"#1a7a1a","strokeWidth":3},"encoding":{"x":{"field":"x1","type":"quantitative","scale":{"domain":[63.6,96.5]},"axis":{"orient":"top","grid":true,"values":[65,70,75,80,85,90,95],"title":"Melting peak"}},"x2":{"field":"x2"},"y":{"field":"h","type":"quantitative","scale":{"domain":[-11,310]},"axis":{"orient":"right","grid":true,"values":[0,50,100,150,200,250,300,350],"title":null}}}}]},
{"width":615,"height":350,"title":"c","layer":[{"data":{"name":"c"},"mark":{"type":"line","interpolate":"monotone","strokeWidth":2.4,"opacity":0.95},"encoding":{"x":{"field":"t","type":"quantitative","scale":{"domain":[63.6,96.5]},"axis":{"orient":"bottom","values":[65,66,67,68,69,70,71,72,73,74,75,76,77,78,79,80,81,82,83,84,85,86,87,88,89,90,91,92,93,94,95],"labelExpr":"datum.value % 5 === 0 ? datum.label : ''","title":"Temperature (ºC)"}},"y":{"field":"v","type":"quantitative","scale":{"domain":[-8,296]},"axis":{"orient":"left","values":[0,10,20,30,40,50,60,70,80,90,100,110,120,130,140,150,160,170,180,190,200,210,220,230,240,250,260,270,280,290,300,310,320,330,340],"labelExpr":"datum.value % 50 === 0 ? datum.label : ''","title":"-d(RFU)/dT"}},"color":{"field":"c","type":"nominal","legend":null,"scale":{"range":["#3a9a3a","#0a6a0a","#1f861f","#55ad55"]}}}},{"data":{"name":"thr"},"transform":[{"filter":"datum.p==='c'"}],"mark":{"type":"rule","color":"#1a7a1a","strokeWidth":3},"encoding":{"x":{"field":"x1","type":"quantitative","scale":{"domain":[63.6,96.5]},"axis":{"orient":"top","grid":true,"values":[65,70,75,80,85,90,95],"title":"Melting peak"}},"x2":{"field":"x2"},"y":{"field":"h","type":"quantitative","scale":{"domain":[-8,296]},"axis":{"orient":"right","grid":true,"values":[0,50,100,150,200,250,300,350],"title":null}}}}]},
{"width":615,"height":350,"title":"d","layer":[{"data":{"name":"d"},"mark":{"type":"line","interpolate":"monotone","strokeWidth":2.4,"opacity":0.95},"encoding":{"x":{"field":"t","type":"quantitative","scale":{"domain":[63.6,96.5]},"axis":{"orient":"bottom","values":[65,66,67,68,69,70,71,72,73,74,75,76,77,78,79,80,81,82,83,84,85,86,87,88,89,90,91,92,93,94,95],"labelExpr":"datum.value % 5 === 0 ? datum.label : ''","title":"Temperature (ºC)"}},"y":{"field":"v","type":"quantitative","scale":{"domain":[-7,275]},"axis":{"orient":"left","values":[0,10,20,30,40,50,60,70,80,90,100,110,120,130,140,150,160,170,180,190,200,210,220,230,240,250,260,270,280,290,300,310,320,330,340],"labelExpr":"datum.value % 50 === 0 ? datum.label : ''","title":"-d(RFU)/dT"}},"color":{"field":"c","type":"nominal","legend":null,"scale":{"range":["#3a9a3a","#0a6a0a","#1f861f","#55ad55"]}}}},{"data":{"name":"thr"},"transform":[{"filter":"datum.p==='d'"}],"mark":{"type":"rule","color":"#1a7a1a","strokeWidth":3},"encoding":{"x":{"field":"x1","type":"quantitative","scale":{"domain":[63.6,96.5]},"axis":{"orient":"top","grid":true,"values":[65,70,75,80,85,90,95],"title":"Melting peak"}},"x2":{"field":"x2"},"y":{"field":"h","type":"quantitative","scale":{"domain":[-7,275]},"axis":{"orient":"right","grid":true,"values":[0,50,100,150,200,250,300,350],"title":null}}}}]},
{"width":615,"height":350,"title":"e","layer":[{"data":{"name":"e"},"mark":{"type":"line","interpolate":"monotone","strokeWidth":2.4,"opacity":0.95},"encoding":{"x":{"field":"t","type":"quantitative","scale":{"domain":[63.6,96.5]},"axis":{"orient":"bottom","values":[65,66,67,68,69,70,71,72,73,74,75,76,77,78,79,80,81,82,83,84,85,86,87,88,89,90,91,92,93,94,95],"labelExpr":"datum.value % 5 === 0 ? datum.label : ''","title":"Temperature (ºC)"}},"y":{"field":"v","type":"quantitative","scale":{"domain":[-9,277]},"axis":{"orient":"left","values":[0,10,20,30,40,50,60,70,80,90,100,110,120,130,140,150,160,170,180,190,200,210,220,230,240,250,260,270,280,290,300,310,320,330,340],"labelExpr":"datum.value % 50 === 0 ? datum.label : ''","title":"-d(RFU)/dT"}},"color":{"field":"c","type":"nominal","legend":null,"scale":{"range":["#3a9a3a","#0a6a0a","#1f861f","#55ad55"]}}}},{"data":{"name":"thr"},"transform":[{"filter":"datum.p==='e'"}],"mark":{"type":"rule","color":"#1a7a1a","strokeWidth":3},"encoding":{"x":{"field":"x1","type":"quantitative","scale":{"domain":[63.6,96.5]},"axis":{"orient":"top","grid":true,"values":[65,70,75,80,85,90,95],"title":"Melting peak"}},"x2":{"field":"x2"},"y":{"field":"h","type":"quantitative","scale":{"domain":[-9,277]},"axis":{"orient":"right","grid":true,"values":[0,50,100,150,200,250,300,350],"title":null}}}}]},
{"width":615,"height":350,"title":"f","layer":[{"data":{"name":"f"},"mark":{"type":"line","interpolate":"monotone","strokeWidth":2.4,"opacity":0.95},"encoding":{"x":{"field":"t","type":"quantitative","scale":{"domain":[63.6,96.5]},"axis":{"orient":"bottom","values":[65,66,67,68,69,70,71,72,73,74,75,76,77,78,79,80,81,82,83,84,85,86,87,88,89,90,91,92,93,94,95],"labelExpr":"datum.value % 5 === 0 ? datum.label : ''","title":"Temperature (ºC)"}},"y":{"field":"v","type":"quantitative","scale":{"domain":[-12,298]},"axis":{"orient":"left","values":[0,10,20,30,40,50,60,70,80,90,100,110,120,130,140,150,160,170,180,190,200,210,220,230,240,250,260,270,280,290,300,310,320,330,340],"labelExpr":"datum.value % 50 === 0 ? datum.label : ''","title":"-d(RFU)/dT"}},"color":{"field":"c","type":"nominal","legend":null,"scale":{"range":["#3a9a3a","#0a6a0a","#1f861f","#55ad55"]}}}},{"data":{"name":"thr"},"transform":[{"filter":"datum.p==='f'"}],"mark":{"type":"rule","color":"#1a7a1a","strokeWidth":3},"encoding":{"x":{"field":"x1","type":"quantitative","scale":{"domain":[63.6,96.5]},"axis":{"orient":"top","grid":true,"values":[65,70,75,80,85,90,95],"title":"Melting peak"}},"x2":{"field":"x2"},"y":{"field":"h","type":"quantitative","scale":{"domain":[-12,298]},"axis":{"orient":"right","grid":true,"values":[0,50,100,150,200,250,300,350],"title":null}}}}]}
]},
{"bounds":"flush","spacing":70,"hconcat":[
{"width":615,"height":350,"title":"g","layer":[{"data":{"name":"g"},"mark":{"type":"line","interpolate":"monotone","strokeWidth":2.4,"opacity":0.95},"encoding":{"x":{"field":"t","type":"quantitative","scale":{"domain":[63.6,96.5]},"axis":{"orient":"bottom","values":[65,66,67,68,69,70,71,72,73,74,75,76,77,78,79,80,81,82,83,84,85,86,87,88,89,90,91,92,93,94,95],"labelExpr":"datum.value % 5 === 0 ? datum.label : ''","title":"Temperature (ºC)"}},"y":{"field":"v","type":"quantitative","scale":{"domain":[-11,235]},"axis":{"orient":"left","values":[0,10,20,30,40,50,60,70,80,90,100,110,120,130,140,150,160,170,180,190,200,210,220,230,240,250,260,270,280,290,300,310,320,330,340],"labelExpr":"datum.value % 50 === 0 ? datum.label : ''","title":"-d(RFU)/dT"}},"color":{"field":"c","type":"nominal","legend":null,"scale":{"range":["#3a9a3a","#0a6a0a","#1f861f","#55ad55"]}}}},{"data":{"name":"thr"},"transform":[{"filter":"datum.p==='g'"}],"mark":{"type":"rule","color":"#1a7a1a","strokeWidth":3},"encoding":{"x":{"field":"x1","type":"quantitative","scale":{"domain":[63.6,96.5]},"axis":{"orient":"top","grid":true,"values":[65,70,75,80,85,90,95],"title":"Melting peak"}},"x2":{"field":"x2"},"y":{"field":"h","type":"quantitative","scale":{"domain":[-11,235]},"axis":{"orient":"right","grid":true,"values":[0,50,100,150,200,250,300,350],"title":null}}}}]},
{"width":615,"height":350,"title":"h","layer":[{"data":{"name":"h"},"mark":{"type":"line","interpolate":"monotone","strokeWidth":2.4,"opacity":0.95},"encoding":{"x":{"field":"t","type":"quantitative","scale":{"domain":[63.6,96.5]},"axis":{"orient":"bottom","values":[65,66,67,68,69,70,71,72,73,74,75,76,77,78,79,80,81,82,83,84,85,86,87,88,89,90,91,92,93,94,95],"labelExpr":"datum.value % 5 === 0 ? datum.label : ''","title":"Temperature (ºC)"}},"y":{"field":"v","type":"quantitative","scale":{"domain":[-23,304]},"axis":{"orient":"left","values":[0,10,20,30,40,50,60,70,80,90,100,110,120,130,140,150,160,170,180,190,200,210,220,230,240,250,260,270,280,290,300,310,320,330,340],"labelExpr":"datum.value % 50 === 0 ? datum.label : ''","title":"-d(RFU)/dT"}},"color":{"field":"c","type":"nominal","legend":null,"scale":{"range":["#3a9a3a","#0a6a0a","#1f861f","#55ad55"]}}}},{"data":{"name":"thr"},"transform":[{"filter":"datum.p==='h'"}],"mark":{"type":"rule","color":"#1a7a1a","strokeWidth":3},"encoding":{"x":{"field":"x1","type":"quantitative","scale":{"domain":[63.6,96.5]},"axis":{"orient":"top","grid":true,"values":[65,70,75,80,85,90,95],"title":"Melting peak"}},"x2":{"field":"x2"},"y":{"field":"h","type":"quantitative","scale":{"domain":[-23,304]},"axis":{"orient":"right","grid":true,"values":[0,50,100,150,200,250,300,350],"title":null}}}}]},
{"width":615,"height":350,"title":"i","layer":[{"data":{"name":"i"},"mark":{"type":"line","interpolate":"monotone","strokeWidth":2.4,"opacity":0.95},"encoding":{"x":{"field":"t","type":"quantitative","scale":{"domain":[63.6,96.5]},"axis":{"orient":"bottom","values":[65,66,67,68,69,70,71,72,73,74,75,76,77,78,79,80,81,82,83,84,85,86,87,88,89,90,91,92,93,94,95],"labelExpr":"datum.value % 5 === 0 ? datum.label : ''","title":"Temperature (ºC)"}},"y":{"field":"v","type":"quantitative","scale":{"domain":[-15,250]},"axis":{"orient":"left","values":[0,10,20,30,40,50,60,70,80,90,100,110,120,130,140,150,160,170,180,190,200,210,220,230,240,250,260,270,280,290,300,310,320,330,340],"labelExpr":"datum.value % 50 === 0 ? datum.label : ''","title":"-d(RFU)/dT"}},"color":{"field":"c","type":"nominal","legend":null,"scale":{"range":["#3a9a3a","#0a6a0a","#1f861f","#55ad55"]}}}},{"data":{"name":"thr"},"transform":[{"filter":"datum.p==='i'"}],"mark":{"type":"rule","color":"#1a7a1a","strokeWidth":3},"encoding":{"x":{"field":"x1","type":"quantitative","scale":{"domain":[63.6,96.5]},"axis":{"orient":"top","grid":true,"values":[65,70,75,80,85,90,95],"title":"Melting peak"}},"x2":{"field":"x2"},"y":{"field":"h","type":"quantitative","scale":{"domain":[-15,250]},"axis":{"orient":"right","grid":true,"values":[0,50,100,150,200,250,300,350],"title":null}}}}]},
{"width":615,"height":350,"title":"j","layer":[{"data":{"name":"j"},"mark":{"type":"line","interpolate":"monotone","strokeWidth":2.4,"opacity":0.95},"encoding":{"x":{"field":"t","type":"quantitative","scale":{"domain":[63.6,96.5]},"axis":{"orient":"bottom","values":[65,66,67,68,69,70,71,72,73,74,75,76,77,78,79,80,81,82,83,84,85,86,87,88,89,90,91,92,93,94,95],"labelExpr":"datum.value % 5 === 0 ? datum.label : ''","title":"Temperature (ºC)"}},"y":{"field":"v","type":"quantitative","scale":{"domain":[-13,311]},"axis":{"orient":"left","values":[0,10,20,30,40,50,60,70,80,90,100,110,120,130,140,150,160,170,180,190,200,210,220,230,240,250,260,270,280,290,300,310,320,330,340],"labelExpr":"datum.value % 50 === 0 ? datum.label : ''","title":"-d(RFU)/dT"}},"color":{"field":"c","type":"nominal","legend":null,"scale":{"range":["#3a9a3a","#0a6a0a","#1f861f","#55ad55"]}}}},{"data":{"name":"thr"},"transform":[{"filter":"datum.p==='j'"}],"mark":{"type":"rule","color":"#1a7a1a","strokeWidth":3},"encoding":{"x":{"field":"x1","type":"quantitative","scale":{"domain":[63.6,96.5]},"axis":{"orient":"top","grid":true,"values":[65,70,75,80,85,90,95],"title":"Melting peak"}},"x2":{"field":"x2"},"y":{"field":"h","type":"quantitative","scale":{"domain":[-13,311]},"axis":{"orient":"right","grid":true,"values":[0,50,100,150,200,250,300,350],"title":null}}}}]},
{"width":615,"height":350,"title":"k","layer":[{"data":{"name":"k"},"mark":{"type":"line","interpolate":"monotone","strokeWidth":2.4,"opacity":0.95},"encoding":{"x":{"field":"t","type":"quantitative","scale":{"domain":[63.6,96.5]},"axis":{"orient":"bottom","values":[65,66,67,68,69,70,71,72,73,74,75,76,77,78,79,80,81,82,83,84,85,86,87,88,89,90,91,92,93,94,95],"labelExpr":"datum.value % 5 === 0 ? datum.label : ''","title":"Temperature (ºC)"}},"y":{"field":"v","type":"quantitative","scale":{"domain":[-9,289]},"axis":{"orient":"left","values":[0,10,20,30,40,50,60,70,80,90,100,110,120,130,140,150,160,170,180,190,200,210,220,230,240,250,260,270,280,290,300,310,320,330,340],"labelExpr":"datum.value % 50 === 0 ? datum.label : ''","title":"-d(RFU)/dT"}},"color":{"field":"c","type":"nominal","legend":null,"scale":{"range":["#3a9a3a","#0a6a0a","#1f861f","#55ad55"]}}}},{"data":{"name":"thr"},"transform":[{"filter":"datum.p==='k'"}],"mark":{"type":"rule","color":"#1a7a1a","strokeWidth":3},"encoding":{"x":{"field":"x1","type":"quantitative","scale":{"domain":[63.6,96.5]},"axis":{"orient":"top","grid":true,"values":[65,70,75,80,85,90,95],"title":"Melting peak"}},"x2":{"field":"x2"},"y":{"field":"h","type":"quantitative","scale":{"domain":[-9,289]},"axis":{"orient":"right","grid":true,"values":[0,50,100,150,200,250,300,350],"title":null}}}}]},
{"width":615,"height":350,"title":"l","layer":[{"data":{"name":"l"},"mark":{"type":"line","interpolate":"monotone","strokeWidth":2.4,"opacity":0.95},"encoding":{"x":{"field":"t","type":"quantitative","scale":{"domain":[63.6,96.5]},"axis":{"orient":"bottom","values":[65,66,67,68,69,70,71,72,73,74,75,76,77,78,79,80,81,82,83,84,85,86,87,88,89,90,91,92,93,94,95],"labelExpr":"datum.value % 5 === 0 ? datum.label : ''","title":"Temperature (ºC)"}},"y":{"field":"v","type":"quantitative","scale":{"domain":[-10,272]},"axis":{"orient":"left","values":[0,10,20,30,40,50,60,70,80,90,100,110,120,130,140,150,160,170,180,190,200,210,220,230,240,250,260,270,280,290,300,310,320,330,340],"labelExpr":"datum.value % 50 === 0 ? datum.label : ''","title":"-d(RFU)/dT"}},"color":{"field":"c","type":"nominal","legend":null,"scale":{"range":["#3a9a3a","#0a6a0a","#1f861f","#55ad55"]}}}},{"data":{"name":"thr"},"transform":[{"filter":"datum.p==='l'"}],"mark":{"type":"rule","color":"#1a7a1a","strokeWidth":3},"encoding":{"x":{"field":"x1","type":"quantitative","scale":{"domain":[63.6,96.5]},"axis":{"orient":"top","grid":true,"values":[65,70,75,80,85,90,95],"title":"Melting peak"}},"x2":{"field":"x2"},"y":{"field":"h","type":"quantitative","scale":{"domain":[-10,272]},"axis":{"orient":"right","grid":true,"values":[0,50,100,150,200,250,300,350],"title":null}}}}]}
]},
{"bounds":"flush","spacing":70,"hconcat":[
{"width":615,"height":350,"title":"m","layer":[{"data":{"name":"m"},"mark":{"type":"line","interpolate":"monotone","strokeWidth":2.4,"opacity":0.95},"encoding":{"x":{"field":"t","type":"quantitative","scale":{"domain":[63.6,96.5]},"axis":{"orient":"bottom","values":[65,66,67,68,69,70,71,72,73,74,75,76,77,78,79,80,81,82,83,84,85,86,87,88,89,90,91,92,93,94,95],"labelExpr":"datum.value % 5 === 0 ? datum.label : ''","title":"Temperature (ºC)"}},"y":{"field":"v","type":"quantitative","scale":{"domain":[-13,348]},"axis":{"orient":"left","values":[0,10,20,30,40,50,60,70,80,90,100,110,120,130,140,150,160,170,180,190,200,210,220,230,240,250,260,270,280,290,300,310,320,330,340],"labelExpr":"datum.value % 50 === 0 ? datum.label : ''","title":"-d(RFU)/dT"}},"color":{"field":"c","type":"nominal","legend":null,"scale":{"range":["#3a9a3a","#0a6a0a","#1f861f","#55ad55"]}}}},{"data":{"name":"thr"},"transform":[{"filter":"datum.p==='m'"}],"mark":{"type":"rule","color":"#1a7a1a","strokeWidth":3},"encoding":{"x":{"field":"x1","type":"quantitative","scale":{"domain":[63.6,96.5]},"axis":{"orient":"top","grid":true,"values":[65,70,75,80,85,90,95],"title":"Melting peak"}},"x2":{"field":"x2"},"y":{"field":"h","type":"quantitative","scale":{"domain":[-13,348]},"axis":{"orient":"right","grid":true,"values":[0,50,100,150,200,250,300,350],"title":null}}}}]},
{"width":615,"height":350,"title":"n","layer":[{"data":{"name":"n"},"mark":{"type":"line","interpolate":"monotone","strokeWidth":2.4,"opacity":0.95},"encoding":{"x":{"field":"t","type":"quantitative","scale":{"domain":[63.6,96.5]},"axis":{"orient":"bottom","values":[65,66,67,68,69,70,71,72,73,74,75,76,77,78,79,80,81,82,83,84,85,86,87,88,89,90,91,92,93,94,95],"labelExpr":"datum.value % 5 === 0 ? datum.label : ''","title":"Temperature (ºC)"}},"y":{"field":"v","type":"quantitative","scale":{"domain":[-10,325]},"axis":{"orient":"left","values":[0,10,20,30,40,50,60,70,80,90,100,110,120,130,140,150,160,170,180,190,200,210,220,230,240,250,260,270,280,290,300,310,320,330,340],"labelExpr":"datum.value % 50 === 0 ? datum.label : ''","title":"-d(RFU)/dT"}},"color":{"field":"c","type":"nominal","legend":null,"scale":{"range":["#3a9a3a","#0a6a0a","#1f861f","#55ad55"]}}}},{"data":{"name":"thr"},"transform":[{"filter":"datum.p==='n'"}],"mark":{"type":"rule","color":"#1a7a1a","strokeWidth":3},"encoding":{"x":{"field":"x1","type":"quantitative","scale":{"domain":[63.6,96.5]},"axis":{"orient":"top","grid":true,"values":[65,70,75,80,85,90,95],"title":"Melting peak"}},"x2":{"field":"x2"},"y":{"field":"h","type":"quantitative","scale":{"domain":[-10,325]},"axis":{"orient":"right","grid":true,"values":[0,50,100,150,200,250,300,350],"title":null}}}}]},
{"width":615,"height":350,"title":"o","layer":[{"data":{"name":"o"},"mark":{"type":"line","interpolate":"monotone","strokeWidth":2.4,"opacity":0.95},"encoding":{"x":{"field":"t","type":"quantitative","scale":{"domain":[63.6,96.5]},"axis":{"orient":"bottom","values":[65,66,67,68,69,70,71,72,73,74,75,76,77,78,79,80,81,82,83,84,85,86,87,88,89,90,91,92,93,94,95],"labelExpr":"datum.value % 5 === 0 ? datum.label : ''","title":"Temperature (ºC)"}},"y":{"field":"v","type":"quantitative","scale":{"domain":[-11,305]},"axis":{"orient":"left","values":[0,10,20,30,40,50,60,70,80,90,100,110,120,130,140,150,160,170,180,190,200,210,220,230,240,250,260,270,280,290,300,310,320,330,340],"labelExpr":"datum.value % 50 === 0 ? datum.label : ''","title":"-d(RFU)/dT"}},"color":{"field":"c","type":"nominal","legend":null,"scale":{"range":["#3a9a3a","#0a6a0a","#1f861f","#55ad55"]}}}},{"data":{"name":"thr"},"transform":[{"filter":"datum.p==='o'"}],"mark":{"type":"rule","color":"#1a7a1a","strokeWidth":3},"encoding":{"x":{"field":"x1","type":"quantitative","scale":{"domain":[63.6,96.5]},"axis":{"orient":"top","grid":true,"values":[65,70,75,80,85,90,95],"title":"Melting peak"}},"x2":{"field":"x2"},"y":{"field":"h","type":"quantitative","scale":{"domain":[-11,305]},"axis":{"orient":"right","grid":true,"values":[0,50,100,150,200,250,300,350],"title":null}}}}]},
{"width":615,"height":350,"title":"p","layer":[{"data":{"name":"p"},"mark":{"type":"line","interpolate":"monotone","strokeWidth":2.4,"opacity":0.95},"encoding":{"x":{"field":"t","type":"quantitative","scale":{"domain":[63.6,96.5]},"axis":{"orient":"bottom","values":[65,66,67,68,69,70,71,72,73,74,75,76,77,78,79,80,81,82,83,84,85,86,87,88,89,90,91,92,93,94,95],"labelExpr":"datum.value % 5 === 0 ? datum.label : ''","title":"Temperature (ºC)"}},"y":{"field":"v","type":"quantitative","scale":{"domain":[-9,272]},"axis":{"orient":"left","values":[0,10,20,30,40,50,60,70,80,90,100,110,120,130,140,150,160,170,180,190,200,210,220,230,240,250,260,270,280,290,300,310,320,330,340],"labelExpr":"datum.value % 50 === 0 ? datum.label : ''","title":"-d(RFU)/dT"}},"color":{"field":"c","type":"nominal","legend":null,"scale":{"range":["#3a9a3a","#0a6a0a","#1f861f","#55ad55"]}}}},{"data":{"name":"thr"},"transform":[{"filter":"datum.p==='p'"}],"mark":{"type":"rule","color":"#1a7a1a","strokeWidth":3},"encoding":{"x":{"field":"x1","type":"quantitative","scale":{"domain":[63.6,96.5]},"axis":{"orient":"top","grid":true,"values":[65,70,75,80,85,90,95],"title":"Melting peak"}},"x2":{"field":"x2"},"y":{"field":"h","type":"quantitative","scale":{"domain":[-9,272]},"axis":{"orient":"right","grid":true,"values":[0,50,100,150,200,250,300,350],"title":null}}}}]},
{"width":615,"height":350,"title":"q","layer":[{"data":{"name":"q"},"mark":{"type":"line","interpolate":"monotone","strokeWidth":2.4,"opacity":0.95},"encoding":{"x":{"field":"t","type":"quantitative","scale":{"domain":[63.6,96.5]},"axis":{"orient":"bottom","values":[65,66,67,68,69,70,71,72,73,74,75,76,77,78,79,80,81,82,83,84,85,86,87,88,89,90,91,92,93,94,95],"labelExpr":"datum.value % 5 === 0 ? datum.label : ''","title":"Temperature (ºC)"}},"y":{"field":"v","type":"quantitative","scale":{"domain":[-9,235]},"axis":{"orient":"left","values":[0,10,20,30,40,50,60,70,80,90,100,110,120,130,140,150,160,170,180,190,200,210,220,230,240,250,260,270,280,290,300,310,320,330,340],"labelExpr":"datum.value % 50 === 0 ? datum.label : ''","title":"-d(RFU)/dT"}},"color":{"field":"c","type":"nominal","legend":null,"scale":{"range":["#3a9a3a","#0a6a0a","#1f861f","#55ad55"]}}}},{"data":{"name":"thr"},"transform":[{"filter":"datum.p==='q'"}],"mark":{"type":"rule","color":"#1a7a1a","strokeWidth":3},"encoding":{"x":{"field":"x1","type":"quantitative","scale":{"domain":[63.6,96.5]},"axis":{"orient":"top","grid":true,"values":[65,70,75,80,85,90,95],"title":"Melting peak"}},"x2":{"field":"x2"},"y":{"field":"h","type":"quantitative","scale":{"domain":[-9,235]},"axis":{"orient":"right","grid":true,"values":[0,50,100,150,200,250,300,350],"title":null}}}}]},
{"width":615,"height":350,"title":"r","layer":[{"data":{"name":"r"},"mark":{"type":"line","interpolate":"monotone","strokeWidth":2.4,"opacity":0.95},"encoding":{"x":{"field":"t","type":"quantitative","scale":{"domain":[63.6,96.5]},"axis":{"orient":"bottom","values":[65,66,67,68,69,70,71,72,73,74,75,76,77,78,79,80,81,82,83,84,85,86,87,88,89,90,91,92,93,94,95],"labelExpr":"datum.value % 5 === 0 ? datum.label : ''","title":"Temperature (ºC)"}},"y":{"field":"v","type":"quantitative","scale":{"domain":[-16,206]},"axis":{"orient":"left","values":[0,10,20,30,40,50,60,70,80,90,100,110,120,130,140,150,160,170,180,190,200,210,220,230,240,250,260,270,280,290,300,310,320,330,340],"labelExpr":"datum.value % 50 === 0 ? datum.label : ''","title":"-d(RFU)/dT"}},"color":{"field":"c","type":"nominal","legend":null,"scale":{"range":["#3a9a3a","#0a6a0a","#1f861f","#55ad55"]}}}},{"data":{"name":"thr"},"transform":[{"filter":"datum.p==='r'"}],"mark":{"type":"rule","color":"#1a7a1a","strokeWidth":3},"encoding":{"x":{"field":"x1","type":"quantitative","scale":{"domain":[63.6,96.5]},"axis":{"orient":"top","grid":true,"values":[65,70,75,80,85,90,95],"title":"Melting peak"}},"x2":{"field":"x2"},"y":{"field":"h","type":"quantitative","scale":{"domain":[-16,206]},"axis":{"orient":"right","grid":true,"values":[0,50,100,150,200,250,300,350],"title":null}}}}]}
]},
{"bounds":"flush","spacing":70,"hconcat":[
{"width":267,"height":350,"data":{"values":[{"k":0}]},"mark":{"type":"point","opacity":0},"encoding":{},"view":{"stroke":null}},
{"width":615,"height":350,"title":{"text":"s","dx":-14,"dy":40,"offset":-11},"layer":[{"data":{"name":"s"},"mark":{"type":"line","interpolate":"monotone","strokeWidth":2.4,"opacity":0.95},"encoding":{"x":{"field":"t","type":"quantitative","scale":{"domain":[63.6,96.5]},"axis":{"orient":"bottom","values":[65,66,67,68,69,70,71,72,73,74,75,76,77,78,79,80,81,82,83,84,85,86,87,88,89,90,91,92,93,94,95],"labelExpr":"datum.value % 5 === 0 ? datum.label : ''","title":"Temperature (ºC)"}},"y":{"field":"v","type":"quantitative","scale":{"domain":[-8,230]},"axis":{"orient":"left","values":[0,10,20,30,40,50,60,70,80,90,100,110,120,130,140,150,160,170,180,190,200,210,220,230,240,250,260,270,280,290,300,310,320,330,340],"labelExpr":"datum.value % 50 === 0 ? datum.label : ''","title":"-d(RFU)/dT"}},"color":{"field":"c","type":"nominal","legend":null,"scale":{"range":["#3a9a3a","#0a6a0a","#1f861f","#55ad55"]}}}},{"data":{"name":"thr"},"transform":[{"filter":"datum.p==='s'"}],"mark":{"type":"rule","color":"#1a7a1a","strokeWidth":3},"encoding":{"x":{"field":"x1","type":"quantitative","scale":{"domain":[63.6,96.5]},"axis":{"orient":"top","grid":true,"values":[65,70,75,80,85,90,95],"title":null}},"x2":{"field":"x2"},"y":{"field":"h","type":"quantitative","scale":{"domain":[-8,230]},"axis":{"orient":"right","grid":true,"values":[0,50,100,150,200,250,300,350],"title":null}}}}]},
{"width":615,"height":350,"title":{"text":"t","dx":-14,"dy":40,"offset":-11},"layer":[{"data":{"name":"t"},"mark":{"type":"line","interpolate":"monotone","strokeWidth":2.4,"opacity":0.95},"encoding":{"x":{"field":"t","type":"quantitative","scale":{"domain":[63.6,96.5]},"axis":{"orient":"bottom","values":[65,66,67,68,69,70,71,72,73,74,75,76,77,78,79,80,81,82,83,84,85,86,87,88,89,90,91,92,93,94,95],"labelExpr":"datum.value % 5 === 0 ? datum.label : ''","title":"Temperature (ºC)"}},"y":{"field":"v","type":"quantitative","scale":{"domain":[-9,278]},"axis":{"orient":"left","values":[0,10,20,30,40,50,60,70,80,90,100,110,120,130,140,150,160,170,180,190,200,210,220,230,240,250,260,270,280,290,300,310,320,330,340],"labelExpr":"datum.value % 50 === 0 ? datum.label : ''","title":"-d(RFU)/dT"}},"color":{"field":"c","type":"nominal","legend":null,"scale":{"range":["#3a9a3a","#0a6a0a","#1f861f","#55ad55"]}}}},{"data":{"name":"thr"},"transform":[{"filter":"datum.p==='t'"}],"mark":{"type":"rule","color":"#1a7a1a","strokeWidth":3},"encoding":{"x":{"field":"x1","type":"quantitative","scale":{"domain":[63.6,96.5]},"axis":{"orient":"top","grid":true,"values":[65,70,75,80,85,90,95],"title":null}},"x2":{"field":"x2"},"y":{"field":"h","type":"quantitative","scale":{"domain":[-9,278]},"axis":{"orient":"right","grid":true,"values":[0,50,100,150,200,250,300,350],"title":null}}}}]},
{"width":615,"height":350,"title":{"text":"u","dx":-14,"dy":40,"offset":-11},"layer":[{"data":{"name":"u"},"mark":{"type":"line","interpolate":"monotone","strokeWidth":2.4,"opacity":0.95},"encoding":{"x":{"field":"t","type":"quantitative","scale":{"domain":[63.6,96.5]},"axis":{"orient":"bottom","values":[65,66,67,68,69,70,71,72,73,74,75,76,77,78,79,80,81,82,83,84,85,86,87,88,89,90,91,92,93,94,95],"labelExpr":"datum.value % 5 === 0 ? datum.label : ''","title":"Temperature (ºC)"}},"y":{"field":"v","type":"quantitative","scale":{"domain":[-9,287]},"axis":{"orient":"left","values":[0,10,20,30,40,50,60,70,80,90,100,110,120,130,140,150,160,170,180,190,200,210,220,230,240,250,260,270,280,290,300,310,320,330,340],"labelExpr":"datum.value % 50 === 0 ? datum.label : ''","title":"-d(RFU)/dT"}},"color":{"field":"c","type":"nominal","legend":null,"scale":{"range":["#3a9a3a","#0a6a0a","#1f861f","#55ad55"]}}}},{"data":{"name":"thr"},"transform":[{"filter":"datum.p==='u'"}],"mark":{"type":"rule","color":"#1a7a1a","strokeWidth":3},"encoding":{"x":{"field":"x1","type":"quantitative","scale":{"domain":[63.6,96.5]},"axis":{"orient":"top","grid":true,"values":[65,70,75,80,85,90,95],"title":null}},"x2":{"field":"x2"},"y":{"field":"h","type":"quantitative","scale":{"domain":[-9,287]},"axis":{"orient":"right","grid":true,"values":[0,50,100,150,200,250,300,350],"title":null}}}}]},
{"width":615,"height":350,"title":{"text":"v","dx":-14,"dy":40,"offset":-11},"layer":[{"data":{"name":"v"},"mark":{"type":"line","interpolate":"monotone","strokeWidth":2.4,"opacity":0.95},"encoding":{"x":{"field":"t","type":"quantitative","scale":{"domain":[63.6,96.5]},"axis":{"orient":"bottom","values":[65,66,67,68,69,70,71,72,73,74,75,76,77,78,79,80,81,82,83,84,85,86,87,88,89,90,91,92,93,94,95],"labelExpr":"datum.value % 5 === 0 ? datum.label : ''","title":"Temperature (ºC)"}},"y":{"field":"v","type":"quantitative","scale":{"domain":[-11,305]},"axis":{"orient":"left","values":[0,10,20,30,40,50,60,70,80,90,100,110,120,130,140,150,160,170,180,190,200,210,220,230,240,250,260,270,280,290,300,310,320,330,340],"labelExpr":"datum.value % 50 === 0 ? datum.label : ''","title":"-d(RFU)/dT"}},"color":{"field":"c","type":"nominal","legend":null,"scale":{"range":["#3a9a3a","#0a6a0a","#1f861f","#55ad55"]}}}},{"data":{"name":"thr"},"transform":[{"filter":"datum.p==='v'"}],"mark":{"type":"rule","color":"#1a7a1a","strokeWidth":3},"encoding":{"x":{"field":"x1","type":"quantitative","scale":{"domain":[63.6,96.5]},"axis":{"orient":"top","grid":true,"values":[65,70,75,80,85,90,95],"title":null}},"x2":{"field":"x2"},"y":{"field":"h","type":"quantitative","scale":{"domain":[-11,305]},"axis":{"orient":"right","grid":true,"values":[0,50,100,150,200,250,300,350],"title":null}}}}]},
{"width":615,"height":350,"title":{"text":"w","dx":-14,"dy":40,"offset":-11},"layer":[{"data":{"name":"w"},"mark":{"type":"line","interpolate":"monotone","strokeWidth":2.4,"opacity":0.95},"encoding":{"x":{"field":"t","type":"quantitative","scale":{"domain":[63.6,96.5]},"axis":{"orient":"bottom","values":[65,66,67,68,69,70,71,72,73,74,75,76,77,78,79,80,81,82,83,84,85,86,87,88,89,90,91,92,93,94,95],"labelExpr":"datum.value % 5 === 0 ? datum.label : ''","title":"Temperature (ºC)"}},"y":{"field":"v","type":"quantitative","scale":{"domain":[-10,325]},"axis":{"orient":"left","values":[0,10,20,30,40,50,60,70,80,90,100,110,120,130,140,150,160,170,180,190,200,210,220,230,240,250,260,270,280,290,300,310,320,330,340],"labelExpr":"datum.value % 50 === 0 ? datum.label : ''","title":"-d(RFU)/dT"}},"color":{"field":"c","type":"nominal","legend":null,"scale":{"range":["#3a9a3a","#0a6a0a","#1f861f","#55ad55"]}}}},{"data":{"name":"thr"},"transform":[{"filter":"datum.p==='w'"}],"mark":{"type":"rule","color":"#1a7a1a","strokeWidth":3},"encoding":{"x":{"field":"x1","type":"quantitative","scale":{"domain":[63.6,96.5]},"axis":{"orient":"top","grid":true,"values":[65,70,75,80,85,90,95],"title":null}},"x2":{"field":"x2"},"y":{"field":"h","type":"quantitative","scale":{"domain":[-10,325]},"axis":{"orient":"right","grid":true,"values":[0,50,100,150,200,250,300,350],"title":null}}}}]}
]}
],
"bounds":"flush",
"spacing":441,
"config":{
"view":{"stroke":"#666","strokeWidth":1.5},
"title":{"anchor":"start","frame":"bounds","fontSize":80,"font":"Liberation Serif","fontWeight":"normal","color":"#000","offset":-41},
"axis":{"labelFont":"Liberation Serif","labelFontWeight":"bold","labelFontSize":20,"labelColor":"#000","titleFont":"Liberation Serif","titleFontWeight":"bold","titleFontSize":20,"titleColor":"#000","tickColor":"#000","domainColor":"#000","labelOverlap":false,"labelFlush":false},
"axisBottom":{"grid":false,"tickSize":5,"tickWidth":1.5,"labelPadding":3,"titlePadding":0,"domainWidth":2,"labelAngle":0,"titleX":307.5},
"axisLeft":{"grid":false,"tickSize":5,"tickWidth":1.5,"labelPadding":5,"titlePadding":2,"titleFontSize":19,"domainWidth":2,"titleY":195},
"axisTop":{"gridDash":[2,5],"gridColor":"#808080","gridWidth":2,"labels":false,"tickSize":4,"tickColor":"#555","domainColor":"#999","domainWidth":4,"titlePadding":2,"titleX":280},
"axisRight":{"gridDash":[2,5],"gridColor":"#808080","gridWidth":2,"labels":false,"ticks":false,"domainColor":"#666","domainWidth":1}
}
}
